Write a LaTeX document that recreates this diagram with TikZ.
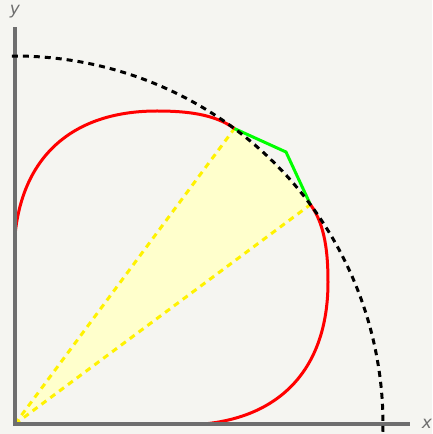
\documentclass[tikz,border=0pt]{standalone}
\usepackage{fontspec}
\setmainfont{DejaVu Sans}
\definecolor{bgcol}{RGB}{245,245,241}
\definecolor{axisgray}{RGB}{110,110,110}
\definecolor{sectorfill}{RGB}{255,255,204}
\definecolor{limegreen}{RGB}{0,255,0}

\begin{document}
\begin{tikzpicture}[x=1pt, y=1pt, every node/.style={font=\fontsize{17}{20}\selectfont\itshape, text=axisgray}]

    % background
    \fill[bgcol] (-15,-10) rectangle (417,424);
    \useasboundingbox (-15,-10) rectangle (417,424);

    \coordinate (O) at (0,0);
    \coordinate (A) at (53.4:368);
    \coordinate (B) at (36.6:368);
    \coordinate (C) at (271,272);

    % sector
    \fill[sectorfill] (O) -- (A) arc[start angle=53.4, end angle=36.6, radius=368] -- cycle;

    % rays
    \draw[yellow, line width=3pt, dash pattern=on 6pt off 5pt] (O) -- (A);
    \draw[yellow, line width=3pt, dash pattern=on 6pt off 5pt] (O) -- (B);

    % red curve
    \draw[red, line width=3pt] (0,189) .. controls (8,270) and (60,313) .. (142,313)
        .. controls (170,313) and (199.4,310.3) .. (A);
    \draw[red, line width=3pt] (B) .. controls (310.3,199.4) and (313,170) .. (313,142)
        .. controls (313,60) and (270,8) .. (189,0);

    % axes
    \draw[axisgray, line width=4pt] (-2,0) -- (395,0);
    \draw[axisgray, line width=4pt] (0,-2) -- (0,397);
    \node (xlab) at (412,0) {x};
    \node (ylab) at (0,412) {y};

    % green polyline
    \draw[limegreen, line width=3pt] (A) -- (C) -- (B);

    % circle
    \draw[black, line width=3pt, dash pattern=on 6pt off 5pt] (90.5:368) arc[start angle=90.5, end angle=-1.5, radius=368];

\end{tikzpicture}
\end{document}
